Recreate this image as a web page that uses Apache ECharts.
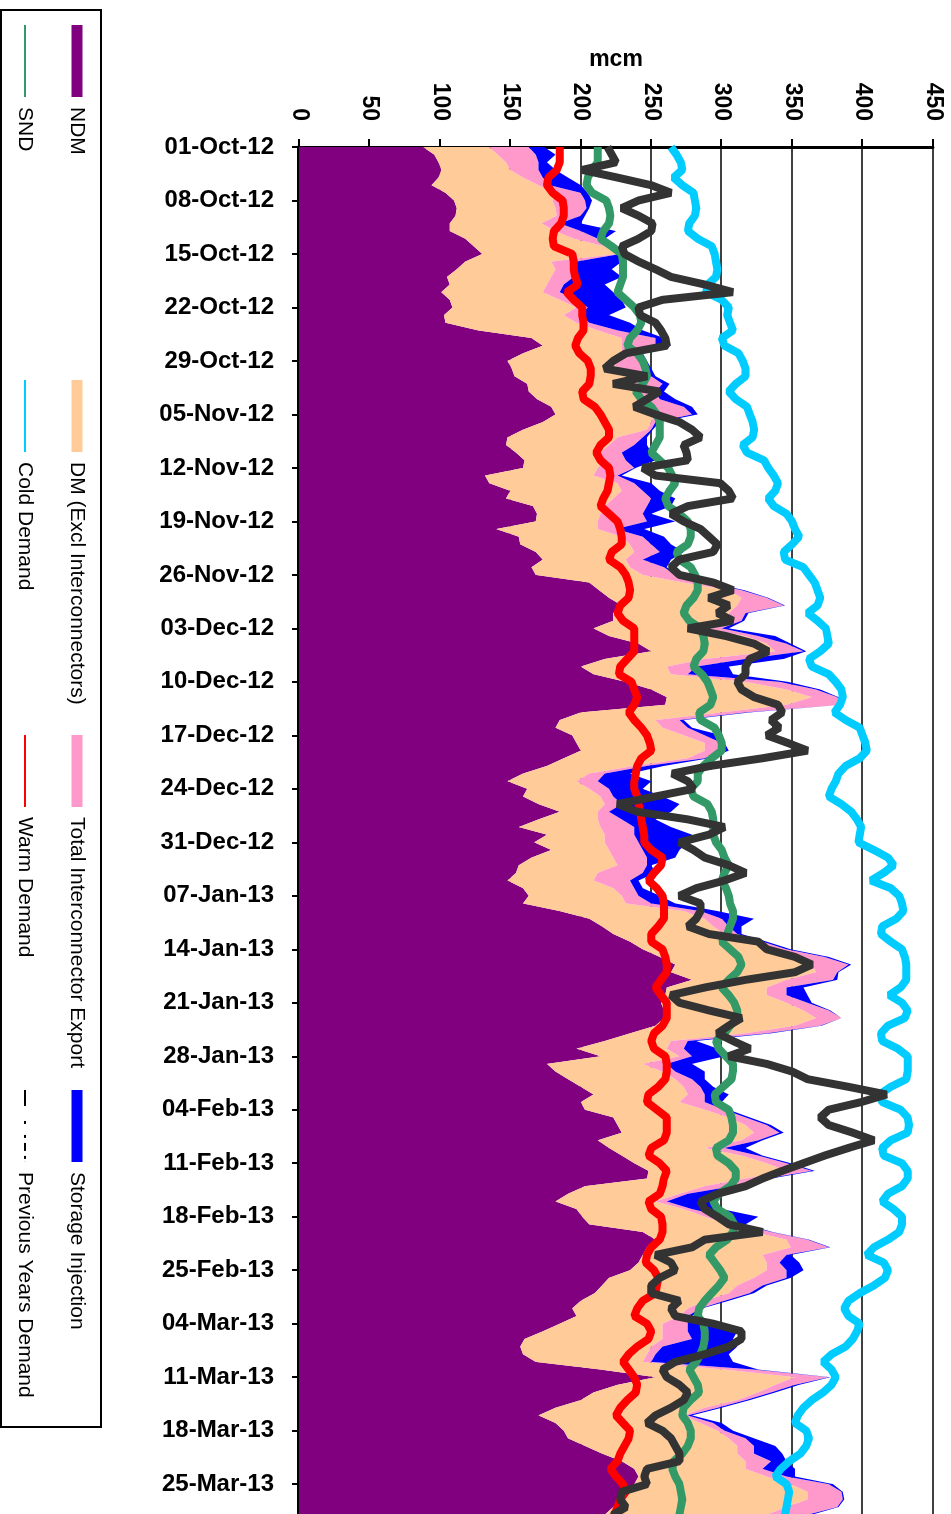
<!DOCTYPE html>
<html><head><meta charset="utf-8">
<script src="https://cdn.jsdelivr.net/npm/echarts/dist/echarts.min.js"></script>
<style>
html,body{margin:0;padding:0;width:951px;height:1514px;overflow:hidden;background:#fff;}
#chart{position:absolute;left:0;top:0;width:1560px;height:951px;transform-origin:0 0;transform:translate(951px,0) rotate(90deg);}
</style></head><body><div id="chart"></div>
<script>
// Categories: daily gas days from 01-Oct-12 to 31-Mar-13
const startDay = Date.UTC(2012, 9, 1);
const dayCount = 182;
const monthNames = ['Jan','Feb','Mar','Apr','May','Jun','Jul','Aug','Sep','Oct','Nov','Dec'];
const dates = [];
for (let i = 0; i < dayCount; i++) {
  const d = new Date(startDay + i * 86400000);
  dates.push(String(d.getUTCDate()).padStart(2,'0') + '-' + monthNames[d.getUTCMonth()] + '-' + String(d.getUTCFullYear()).slice(2));
}
const valueTicks = [0,50,100,150,200,250,300,350,400,450];

const ndm = [88,96,99,101,99,94,104,110,112,111,107,107,118,124,130,118,112,105,107,101,107,109,
103,104,127,165,173,159,148,151,153,162,163,169,179,182,173,159,148,147,154,160,159,132,
135,150,147,166,169,168,140,156,157,168,173,165,168,206,213,220,229,223,223,209,220,241,250,
217,200,209,232,250,261,260,200,185,182,194,197,200,188,176,159,148,162,159,170,185,170,156,
176,167,179,165,156,154,148,159,163,159,185,206,215,223,235,244,256,267,264,279,261,260,
257,259,259,253,235,217,197,214,176,182,191,200,209,200,203,223,226,229,212,220,229,238,248,
247,203,191,182,197,201,206,244,253,247,244,241,235,220,215,210,200,194,197,185,173,160,
157,159,168,214,253,226,209,200,182,170,182,188,191,203,215,229,238,241,238,235,229,223,217,215,214];

const dmExcl = [47,45,48,49,60,76,78,70,70,72,65,75,77,93,96,61,70,74,69,72,78,88,
85,93,85,64,56,70,75,75,82,76,75,72,68,70,77,88,78,73,60,57,53,77,
91,79,76,51,45,44,72,73,78,70,59,70,76,67,92,94,82,82,82,79,97,91,88,
71,61,55,85,96,103,86,100,68,76,79,91,88,88,62,47,49,44,55,47,27,42,58,
41,50,41,58,70,58,61,64,66,73,88,82,79,79,88,97,96,97,103,67,71,72,
89,99,108,99,82,47,64,56,68,76,76,73,67,70,85,82,91,94,102,68,85,94,98,
70,85,79,71,76,87,99,79,93,102,85,91,97,103,96,95,88,82,73,73,85,98,
93,88,76,88,99,112,117,111,106,103,103,109,114,108,96,88,79,91,111,126,132,123,115,115,111];

const icExport = [28,27,23,20,14,8,18,23,22,17,13,18,17,6,2,18,15,16,12,12,12,8,
12,9,14,24,24,12,21,21,15,20,15,15,26,27,3,3,18,18,15,15,26,17,
12,15,27,30,30,35,13,15,15,18,12,24,23,15,9,18,33,12,9,12,9,14,20,
29,21,12,24,21,18,39,17,17,18,15,12,12,12,9,11,15,14,9,12,8,17,24,
21,24,24,24,21,32,26,15,12,18,12,12,11,9,6,5,21,26,15,33,14,14,
15,18,18,18,15,12,12,9,17,9,12,12,12,18,14,12,15,18,12,14,12,14,18,
15,20,6,8,6,14,9,12,15,27,17,9,14,23,18,15,14,9,6,18,18,21,
8,6,6,21,24,14,9,6,9,3,9,5,12,12,12,18,12,14,27,24,25,36,29,22,23];

const storageInj = [11,14,6,12,18,22,5,5,2,3,15,25,5,3,1,32,25,34,29,38,32,27,
20,29,18,6,11,3,3,3,3,5,6,11,6,4,3,1,3,9,21,21,1,3,
12,12,17,17,6,20,20,15,14,17,20,2,2,3,2,1,1,2,2,5,12,3,2,
27,23,32,6,3,1,0,3,3,3,12,2,5,3,12,18,38,24,35,41,44,24,26,
41,35,26,20,3,9,6,6,15,17,12,23,9,3,3,3,3,2,1,3,12,15,
3,1,0,1,3,6,24,23,18,21,9,9,17,12,3,3,3,3,3,15,3,3,2,
3,9,18,30,21,24,3,1,1,1,3,14,12,3,3,3,3,1,3,24,35,29,
53,52,58,3,1,3,3,3,3,3,6,6,6,15,20,11,23,6,3,1,1,1,3,3,3];

const snd = [212,212,212,208,205,204,208,218,220,221,220,216,214,222,229,230,230,230,228,226,232,238,
242,243,240,235,233,240,244,246,247,244,239,243,250,254,256,256,256,253,250,256,262,265,
267,263,260,262,270,276,278,278,276,268,270,278,281,283,283,280,275,273,277,285,287,288,287,
282,280,286,290,292,294,292,284,285,295,298,300,300,293,287,283,283,278,280,290,293,294,294,
294,296,300,302,305,302,300,303,305,306,308,308,306,304,300,306,312,314,311,305,300,305,
309,311,311,306,302,296,298,303,308,308,307,301,295,296,305,307,308,308,305,296,297,305,310,
310,306,298,294,297,306,309,308,304,296,291,295,299,302,298,293,288,284,283,287,288,288,
287,285,282,277,280,283,284,278,273,272,276,278,278,276,272,266,265,267,270,271,272,271,270,270,270];

const coldDemand = [264,268,271,272,266,272,280,281,282,281,277,276,283,293,295,296,297,296,290,289,300,305,
304,306,308,300,302,312,315,317,317,310,305,310,318,320,322,323,322,315,318,330,333,337,
340,338,333,337,346,350,352,355,350,344,345,358,362,366,368,370,368,361,368,374,375,376,370,
362,364,376,381,385,386,384,380,388,398,400,402,403,398,388,383,381,378,376,385,392,396,399,
398,397,408,418,422,415,406,420,426,428,429,424,414,413,420,428,430,431,431,431,427,419,
428,432,430,418,413,414,425,432,432,432,431,420,412,414,427,432,433,432,420,414,415,428,432,
432,428,418,414,422,428,428,426,418,408,403,415,418,416,408,398,390,387,390,398,396,393,
388,378,372,378,381,378,372,364,358,354,352,360,362,360,356,348,342,338,346,348,347,346,345,345,344];

const warmDemand = [185,185,185,183,177,176,180,187,188,188,186,181,180,181,194,195,195,196,198,190,195,201,
201,202,202,198,196,199,205,207,207,206,201,202,210,214,217,220,220,214,211,214,220,221,
220,219,216,214,220,226,228,229,229,222,220,228,232,234,235,234,228,226,230,238,238,238,238,
233,228,227,236,238,240,238,234,238,243,247,249,250,243,240,239,238,238,240,241,242,243,244,
245,245,250,258,257,252,248,254,258,259,259,259,255,250,250,258,260,261,261,257,253,257,
261,261,261,258,252,250,252,260,261,261,260,255,248,247,254,261,261,261,259,250,248,256,261,
259,258,256,248,250,257,258,258,256,250,247,246,252,255,254,253,244,240,238,247,250,248,
240,234,230,234,238,240,239,233,228,225,230,235,234,231,228,226,221,225,230,232,228,226,224,224,225];

const prevYears = [219,222,225,201,226,250,264,241,229,241,251,250,241,229,231,241,253,264,288,308,258,241,
242,253,257,260,261,232,223,217,247,223,256,247,238,253,270,279,285,273,275,276,244,253,
299,305,308,276,264,273,285,291,297,294,270,264,270,294,308,291,305,297,308,276,303,323,333,
320,317,317,311,314,323,340,343,335,341,332,347,361,329,292,265,276,280,253,226,240,276,302,
291,270,280,288,305,317,302,282,270,285,285,282,276,291,326,332,352,364,352,317,288,264,
270,291,314,305,297,308,320,305,332,350,361,390,417,399,376,370,376,393,408,390,373,358,343,
329,317,297,285,288,297,305,329,288,279,253,264,267,256,250,250,270,264,267,294,314,314,
305,288,267,258,261,270,276,273,264,253,247,258,264,267,270,270,247,245,247,229,228,232,223,225,222];

const FONT = '"Liberation Sans", Arial, sans-serif';
const chart = echarts.init(document.getElementById('chart'), null, {renderer:'canvas'});

function areaS(name, data, color) {
  return {name, type:'line', stack:'total', data, symbol:'none', showSymbol:false,
    lineStyle:{width:0, color}, itemStyle:{color}, areaStyle:{color, opacity:1},
    emphasis:{disabled:true}, silent:true};
}
function lineS(name, data, color) {
  return {name, type:'line', data, symbol:'none', showSymbol:false,
    lineStyle:{width:8, color}, itemStyle:{color}, emphasis:{disabled:true}, silent:true};
}
const legendCommon = {orient:'horizontal', padding:0, selectedMode:false,
  textStyle:{fontSize:21, color:'#000', fontFamily:FONT, lineHeight:22, padding:[0,0,0,5]}};
function leg(name, left, top, icon, w, h, extra) {
  return Object.assign({}, legendCommon, {data:[Object.assign({name, icon}, extra||{})], left, top, itemWidth:w, itemHeight:h, symbolKeepAspect:false});
}

chart.setOption({
  animation:false,
  backgroundColor:'#fff',
  grid:{left:147, top:18, bottom:299, right:30, containLabel:false},
  xAxis:{type:'category', data:dates, boundaryGap:false,
    axisLine:{lineStyle:{color:'#000', width:3}},
    axisTick:{interval:6, length:7, lineStyle:{color:'#000', width:2}},
    axisLabel:{interval:6, rotate:90, margin:25, fontSize:24, fontWeight:'bold', color:'#000', fontFamily:FONT},
    splitLine:{show:false}},
  yAxis:{type:'value', min:valueTicks[0], max:valueTicks[valueTicks.length-1], interval:50,
    name:'mcm', nameLocation:'middle', nameRotate:90, nameGap:76,
    nameTextStyle:{fontSize:23, fontWeight:'bold', color:'#000', fontFamily:FONT},
    axisLine:{show:true, lineStyle:{color:'#000', width:3}},
    axisTick:{show:true, length:8, lineStyle:{color:'#000', width:2}},
    axisLabel:{margin:26, fontSize:23, fontWeight:'bold', color:'#000', fontFamily:FONT},
    splitLine:{show:true, lineStyle:{color:'#000', width:1.5}}},
  legend:[
    leg('NDM', 25, 863, 'rect', 72, 11),
    leg('DM (Excl Interconnectors)', 380, 863, 'rect', 72, 11),
    leg('Total Interconnector Export', 735, 863, 'rect', 72, 11),
    leg('Storage Injection', 1090, 863, 'rect', 72, 11),
    leg('SND', 25, 915, 'rect', 72, 2),
    leg('Cold Demand', 380, 915, 'rect', 72, 2),
    leg('Warm Demand', 735, 915, 'rect', 72, 2),
    leg('Previous Years Demand', 1090, 915, 'path://M0 0H16V2H0Z M31 0H34V2H31Z M45 0H48V2H45Z M53 0H61V2H53Z M66 0H69V2H66Z M72 0H72.1V2H72Z', 72, 2, {itemStyle:{color:'#000'}})
  ],
  graphic:[{type:'rect', silent:true, z:-1, shape:{x:10, y:850, width:1417, height:100},
    style:{fill:'none', stroke:'#000', lineWidth:2}}],
  series:[
    areaS('NDM', ndm, '#800080'),
    areaS('DM (Excl Interconnectors)', dmExcl, '#FFCC99'),
    areaS('Total Interconnector Export', icExport, '#FF99CC'),
    areaS('Storage Injection', storageInj, '#0000FF'),
    lineS('SND', snd, '#339966'),
    lineS('Cold Demand', coldDemand, '#00CCFF'),
    lineS('Warm Demand', warmDemand, '#FF0000'),
    lineS('Previous Years Demand', prevYears, '#333333')
  ]
});
</script></body></html>
